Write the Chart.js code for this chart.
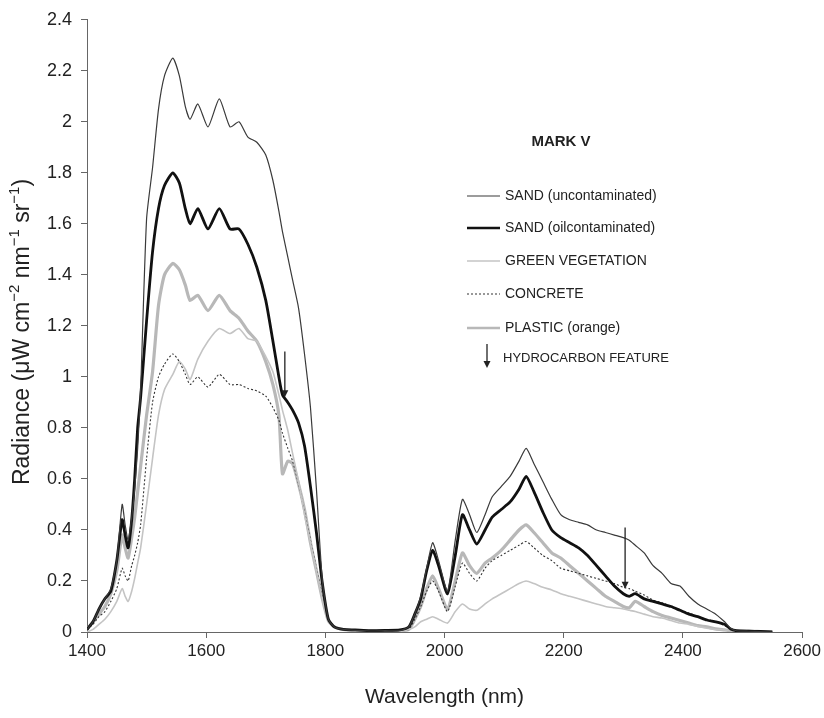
<!DOCTYPE html>
<html lang="en">
<head>
    <meta charset="UTF-8">
    <title>Mark V radiance</title>
    <style>
        body { margin: 0; background: #fff; }
        #wrap { width: 824px; height: 718px; }
    </style>
    <script src="https://cdn.jsdelivr.net/npm/chart.js"></script>
</head>
<body>
    <div id="wrap"><canvas id="spectra" width="824" height="718"></canvas></div>

    <script>
        // wavelengths (nm), shared by every series
        const wavelength = [
            1400, 1410, 1420, 1430, 1440, 1450, 1459, 1464, 1469, 1475, 1480, 1485, 1490,
            1500, 1510, 1520, 1530, 1544, 1555, 1565, 1573, 1586, 1603,
            1622, 1640, 1655, 1670, 1685, 1700, 1712, 1722, 1728, 1737,
            1745, 1755, 1765, 1775, 1785, 1795, 1805, 1815, 1830, 1850,
            1875, 1900, 1925, 1940, 1950, 1960, 1970, 1980, 1990, 2005,
            2018, 2030, 2042, 2054, 2068, 2080, 2095, 2110, 2125, 2137,
            2150, 2165, 2180, 2195, 2210, 2225, 2240, 2255, 2270, 2285,
            2300, 2310, 2320, 2335, 2350, 2365, 2380, 2395, 2410, 2425,
            2440, 2455, 2470, 2480, 2490, 2510, 2530, 2550
        ];

        const sandClean = [
            0.01, 0.04, 0.09, 0.13, 0.17, 0.28, 0.50, 0.42, 0.36, 0.45, 0.56, 0.72, 0.95,
            1.62, 1.82, 2.05, 2.18, 2.25, 2.18, 2.06, 2.01, 2.07, 1.98,
            2.09, 1.98, 2.00, 1.94, 1.92, 1.87, 1.77, 1.65, 1.57, 1.47,
            1.38, 1.27, 1.09, 0.88, 0.56, 0.20, 0.05, 0.02, 0.01, 0.006,
            0.004, 0.005, 0.006, 0.02, 0.07, 0.14, 0.25, 0.35, 0.28, 0.16,
            0.36, 0.52, 0.46, 0.39, 0.46, 0.53, 0.57, 0.61, 0.67, 0.72,
            0.66, 0.59, 0.52, 0.46, 0.44, 0.43, 0.42, 0.40, 0.39, 0.38,
            0.37, 0.36, 0.34, 0.31, 0.26, 0.23, 0.19, 0.18, 0.14, 0.11,
            0.09, 0.07, 0.04, 0.015, 0.005, 0.003, 0.002, 0
        ];

        const sandOil = [
            0.01, 0.04, 0.09, 0.13, 0.16, 0.28, 0.44, 0.38, 0.33, 0.44, 0.60, 0.80, 0.92,
            1.22, 1.49, 1.66, 1.75, 1.80, 1.76, 1.66, 1.60, 1.66, 1.58,
            1.66, 1.58, 1.58, 1.52, 1.43, 1.30, 1.14, 1.00, 0.93, 0.90,
            0.87, 0.82, 0.73, 0.57, 0.39, 0.19, 0.05, 0.02, 0.01, 0.008,
            0.005, 0.006, 0.008, 0.02, 0.07, 0.13, 0.24, 0.32, 0.26, 0.15,
            0.30, 0.46, 0.40, 0.345, 0.40, 0.45, 0.48, 0.51, 0.56, 0.61,
            0.55, 0.47, 0.40, 0.37, 0.35, 0.33, 0.30, 0.26, 0.22, 0.18,
            0.15, 0.14, 0.15, 0.13, 0.12, 0.11, 0.10, 0.085, 0.07, 0.06,
            0.047, 0.04, 0.03, 0.012, 0.005, 0.003, 0.002, 0
        ];

        const vegetation = [
            0, 0.01, 0.03, 0.05, 0.08, 0.12, 0.17, 0.14, 0.12, 0.16, 0.21, 0.27, 0.33,
            0.50, 0.68, 0.85, 0.95, 1.01, 1.06, 1.03, 0.99, 1.07, 1.14,
            1.19, 1.17, 1.19, 1.15, 1.14, 1.08, 1.02, 0.93, 0.87, 0.79,
            0.70, 0.59, 0.46, 0.35, 0.24, 0.13, 0.05, 0.02, 0.01, 0.005,
            0.003, 0.002, 0.002, 0.01, 0.02, 0.04, 0.05, 0.06, 0.05, 0.035,
            0.08, 0.11, 0.09, 0.085, 0.11, 0.13, 0.15, 0.17, 0.19, 0.20,
            0.19, 0.175, 0.165, 0.15, 0.14, 0.13, 0.12, 0.11, 0.10, 0.095,
            0.09, 0.085, 0.08, 0.07, 0.06, 0.055, 0.045, 0.035, 0.03, 0.022,
            0.015, 0.01, 0.008, 0.005, 0.003, 0.004, 0.003, 0
        ];

        const concrete = [
            0.01, 0.03, 0.06, 0.08, 0.12, 0.17, 0.25, 0.22, 0.20, 0.26, 0.30, 0.35, 0.42,
            0.68, 0.90, 1.00, 1.05, 1.09, 1.06, 1.01, 0.97, 1.00, 0.96,
            1.01, 0.97, 0.97, 0.955, 0.945, 0.925, 0.88, 0.83, 0.78, 0.72,
            0.67, 0.58, 0.47, 0.36, 0.25, 0.14, 0.05, 0.02, 0.01, 0.006,
            0.004, 0.005, 0.006, 0.01, 0.05, 0.10, 0.16, 0.20, 0.16, 0.08,
            0.18, 0.27, 0.23, 0.20, 0.25, 0.28, 0.30, 0.32, 0.34, 0.355,
            0.33, 0.30, 0.28, 0.25, 0.24, 0.23, 0.22, 0.21, 0.20, 0.19,
            0.175, 0.17, 0.16, 0.145, 0.125, 0.115, 0.10, 0.085, 0.075, 0.06,
            0.05, 0.04, 0.025, 0.012, 0.005, 0.003, 0.002, 0
        ];

        const plastic = [
            0.01, 0.04, 0.07, 0.10, 0.15, 0.24, 0.38, 0.33, 0.29, 0.37, 0.45, 0.55, 0.65,
            0.85, 1.02, 1.28, 1.40, 1.445, 1.42, 1.36, 1.30, 1.32, 1.26,
            1.32, 1.26, 1.23, 1.18, 1.14, 1.06, 0.97, 0.85, 0.62, 0.67,
            0.66, 0.58, 0.48, 0.35, 0.24, 0.13, 0.045, 0.02, 0.01, 0.005,
            0.003, 0.004, 0.005, 0.01, 0.05, 0.10, 0.17, 0.22, 0.17, 0.09,
            0.20, 0.31, 0.26, 0.23, 0.27, 0.29, 0.32, 0.36, 0.40, 0.42,
            0.39, 0.35, 0.31, 0.29, 0.26, 0.23, 0.20, 0.17, 0.14, 0.12,
            0.10, 0.095, 0.12, 0.10, 0.08, 0.065, 0.055, 0.045, 0.035, 0.025,
            0.02, 0.012, 0.008, 0.005, 0.003, 0.004, 0.002, 0
        ];

        const seriesNames = ['SAND (uncontaminated)', 'SAND (oilcontaminated)', 'GREEN VEGETATION', 'CONCRETE', 'PLASTIC (orange)'];

        // hydrocarbon feature arrows: wavelength, arrow top, arrow tip (radiance)
        const featureNm = [1732, 2303];
        const featureTop = [1.10, 0.41];
        const featureTip = [0.92, 0.17];

        const xTicks = [1400, 1600, 1800, 2000, 2200, 2400, 2600];

        // y title pieces: [text, superscript?]
        const yTitleParts = [['Radiance (\u03bcW cm', false], ['\u22122', true], [' nm', false], ['\u22121', true], [' sr', false], ['\u22121', true], [')', false]];

        const FONT = "'Liberation Sans', Arial, sans-serif";

        const styles = [
            { color: '#3a3a3a', width: 1.2, dash: [] },
            { color: '#111111', width: 2.8, dash: [] },
            { color: '#c4c4c4', width: 1.6, dash: [] },
            { color: '#333333', width: 1.1, dash: [2, 2] },
            { color: '#b8b8b8', width: 3.2, dash: [] }
        ];

        const seriesValues = [sandClean, sandOil, vegetation, concrete, plastic];

        const datasets = seriesValues.map((vals, i) => ({
            label: seriesNames[i],
            data: wavelength.map((w, j) => ({ x: w, y: vals[j] })),
            borderColor: styles[i].color,
            borderWidth: styles[i].width,
            borderDash: styles[i].dash,
            pointRadius: 0,
            tension: 0.2,
            fill: false
        }));

        // custom legend, y title with superscripts, feature arrows
        const markPlugin = {
            id: 'markV',
            afterDatasetsDraw(chart) {
                const ctx = chart.ctx;
                const xs = chart.scales.x, ys = chart.scales.y;

                function arrow(x, y1, y2) {
                    ctx.save();
                    ctx.strokeStyle = '#222';
                    ctx.fillStyle = '#222';
                    ctx.lineWidth = 1.3;
                    ctx.beginPath();
                    ctx.moveTo(x, y1);
                    ctx.lineTo(x, y2 - 5);
                    ctx.stroke();
                    ctx.beginPath();
                    ctx.moveTo(x - 3.5, y2 - 7);
                    ctx.lineTo(x + 3.5, y2 - 7);
                    ctx.lineTo(x, y2);
                    ctx.closePath();
                    ctx.fill();
                    ctx.restore();
                }

                featureNm.forEach((nm, i) => {
                    arrow(xs.getPixelForValue(nm), ys.getPixelForValue(featureTop[i]), ys.getPixelForValue(featureTip[i]));
                });

                // y axis title
                ctx.save();
                ctx.fillStyle = '#222';
                ctx.textBaseline = 'middle';
                ctx.textAlign = 'left';
                const big = '23px ' + FONT, small = '15px ' + FONT;
                let total = 0;
                yTitleParts.forEach(p => { ctx.font = p[1] ? small : big; total += ctx.measureText(p[0]).width; });
                ctx.translate(23, 332);
                ctx.rotate(-Math.PI / 2);
                let cx = -total / 2;
                yTitleParts.forEach(p => {
                    ctx.font = p[1] ? small : big;
                    ctx.fillText(p[0], cx, p[1] ? -8 : 0);
                    cx += ctx.measureText(p[0]).width;
                });
                ctx.restore();

                ctx.save();
                ctx.fillStyle = '#222';
                ctx.font = 'bold 15px ' + FONT;
                ctx.textAlign = 'center';
                ctx.textBaseline = 'middle';
                ctx.fillText('MARK V', 561, 142);

                ctx.font = '14px ' + FONT;
                ctx.textAlign = 'left';
                const rowY = [196, 228, 261, 294, 328];
                seriesNames.forEach((name, i) => {
                    const y = rowY[i];
                    ctx.save();
                    ctx.strokeStyle = styles[i].color;
                    ctx.lineWidth = Math.min(styles[i].width, 2.4);
                    ctx.setLineDash(styles[i].dash);
                    ctx.beginPath();
                    ctx.moveTo(467, y);
                    ctx.lineTo(500, y);
                    ctx.stroke();
                    ctx.restore();
                    ctx.fillText(name, 505, y);
                });
                arrow(487, 344, 368);
                ctx.font = '13px ' + FONT;
                ctx.fillText('HYDROCARBON FEATURE', 503, 358);
                ctx.restore();
            }
        };

        new Chart(document.getElementById('spectra').getContext('2d'), {
            type: 'line',
            data: { datasets: datasets },
            options: {
                responsive: false,
                animation: false,
                layout: { padding: { top: 19, right: 21, left: 0, bottom: 0 } },
                plugins: {
                    legend: { display: false },
                    tooltip: { enabled: false }
                },
                scales: {
                    x: {
                        type: 'linear',
                        min: 1400,
                        max: 2600,
                        afterBuildTicks(scale) { scale.ticks = xTicks.map(v => ({ value: v })); },
                        afterFit(scale) { scale.height = 86; },
                        ticks: { color: '#222', font: { family: FONT, size: 17 }, padding: 3, maxRotation: 0, callback: v => String(v) },
                        grid: { drawOnChartArea: false, drawTicks: true, tickLength: 6, color: '#666' },
                        border: { color: '#666', width: 1 },
                        title: {
                            display: true,
                            text: 'Wavelength (nm)',
                            color: '#222',
                            font: { family: FONT, size: 21 },
                            padding: { top: 0, bottom: 8 }
                        }
                    },
                    y: {
                        min: 0,
                        max: 2.4,
                        afterFit(scale) { scale.width = 87; },
                        ticks: {
                            stepSize: 0.2,
                            color: '#222',
                            font: { family: FONT, size: 18 },
                            padding: 9,
                            callback: v => String(Math.round(v * 10) / 10)
                        },
                        grid: { drawOnChartArea: false, drawTicks: true, tickLength: 6, color: '#666' },
                        border: { color: '#666', width: 1 }
                    }
                }
            },
            plugins: [markPlugin]
        });
    </script>
</body>
</html>
